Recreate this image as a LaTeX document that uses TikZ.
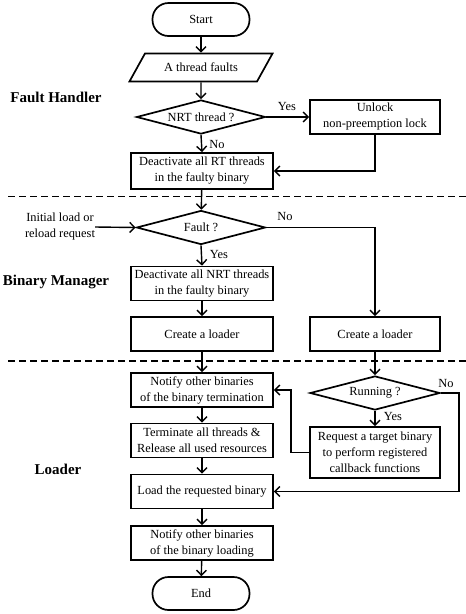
\documentclass[tikz,border=0pt]{standalone}
\usepackage{fontspec}
\setmainfont{Liberation Serif}
\usepackage{tikz}
\usetikzlibrary{shapes.geometric, positioning, arrows.meta, calc}

\begin{document}
\begin{tikzpicture}[x=1pt, y=-1pt,
          box/.style={rectangle, draw, line width=1.7pt, minimum width=142pt,
                      minimum height=34pt, inner sep=1pt, align=center,
                      font=\fontsize{12.4}{16}\selectfont},
          rbox/.style={box, minimum width=130pt},
          term/.style={box, rounded corners=16pt, minimum width=97pt,
                       minimum height=33pt},
          io/.style={trapezium, draw, line width=1.7pt, trapezium left angle=61,
                     trapezium right angle=119, trapezium stretches body=true,
                     minimum width=143pt, inner xsep=0pt, inner ysep=9.5pt,
                     font=\fontsize{12.4}{16}\selectfont},
          dec/.style={diamond, draw, line width=1.7pt, aspect=3.8, inner sep=0pt,
                      minimum width=129pt, minimum height=34pt,
                      font=\fontsize{12.4}{16}\selectfont},
          lbl/.style={inner sep=0pt, font=\fontsize{12.4}{16}\selectfont},
          sect/.style={inner sep=0pt, font=\fontsize{15}{18}\selectfont\bfseries},
          sep/.style={line width=1.3pt, dash pattern=on 7pt off 4pt},
          arr/.style={-{Straight Barb[length=5pt, width=10pt]}, line width=1.4pt}
        ]
        \useasboundingbox (0,0) rectangle (466,614);

        % Fault Handler
        \node[sect] (fh) at (56, 97) {Fault Handler};
        \node[term] (start) at (201, 19.5) {Start};
        \node[io]   (flt) at (201, 67.5) {A thread faults};
        \node[dec]  (nrt) at (201, 117) {NRT thread ?};
        \node[rbox] (unlock) at (375, 117) {Unlock\\non-preemption lock};
        \node[box, minimum height=36pt] (deart) at (202, 171)
              {Deactivate all RT threads\\in the faulty binary};
        \node[lbl] (yes1) at (287, 106) {Yes};
        \node[lbl] (no1) at (217, 144) {No};

        \draw[arr] (start) -- (flt);
        \draw[arr] (flt) -- (nrt);
        \draw[arr] (nrt.east) -- (unlock.west);
        \draw[arr] (nrt.south) -- (deart.north);
        \draw[arr] (unlock.south) |- (deart.east);

        \draw[sep] (8, 196.5) -- (466, 196.5);

        % Binary Manager
        \node[sect] (bm) at (56, 282) {Binary Manager};
        \node[dec]  (isflt) at (201, 227.5) {Fault ?};
        \node[lbl, align=center] (init) at (60, 227) {Initial load or\\reload request};
        \node[box]  (deanrt) at (202, 283.5)
              {Deactivate all NRT threads\\in the faulty binary};
        \node[box]  (cla) at (202, 334) {Create a loader};
        \node[rbox] (clb) at (375, 334) {Create a loader};
        \node[lbl] (no2) at (285, 216) {No};
        \node[lbl] (yes2) at (219, 254) {Yes};

        \draw[arr] (deart) -- (isflt);
        \draw[arr] (init.east) -- (isflt.west);
        \draw[arr] (isflt.east) -| (clb.north);
        \draw[arr] (isflt.south) -- (deanrt.north);
        \draw[arr] (deanrt) -- (cla);

        \draw[sep] (8, 361) -- (466, 361);

        % Loader
        \node[sect] (ld) at (58, 469) {Loader};
        \node[box]  (ntfa) at (202, 390)
              {Notify other binaries\\of the binary termination};
        \node[box]  (term) at (202, 440.5)
              {Terminate all threads \&\\Release all used resources};
        \node[box]  (load) at (202, 491.5) {Load the requested binary};
        \node[box]  (ntfb) at (202, 543)
              {Notify other binaries\\of the binary loading};
        \node[term] (end) at (201, 593.5) {End};
        \node[dec, minimum width=130pt] (run) at (375, 393) {Running ?};
        \node[rbox, minimum height=51pt] (req) at (375, 452.5)
              {Request a target binary\\to perform registered\\callback functions};
        \node[lbl] (no3) at (446, 383) {No};
        \node[lbl] (yes3) at (393, 416) {Yes};

        \draw[arr] (cla) -- (ntfa);
        \draw[arr] (clb) -- (run);
        \draw[arr] (run.south) -- (req.north);
        \draw[arr] (run.east) -- ++(18, 0) |- (load.east);
        \draw[arr] (req.west) -- ++(-18, 0) |- (ntfa.east);

        \foreach \a/\b in {ntfa/term, term/load, load/ntfb, ntfb/end} {
          \draw[arr] (\a) -- (\b);
        }
      \end{tikzpicture}
\end{document}
